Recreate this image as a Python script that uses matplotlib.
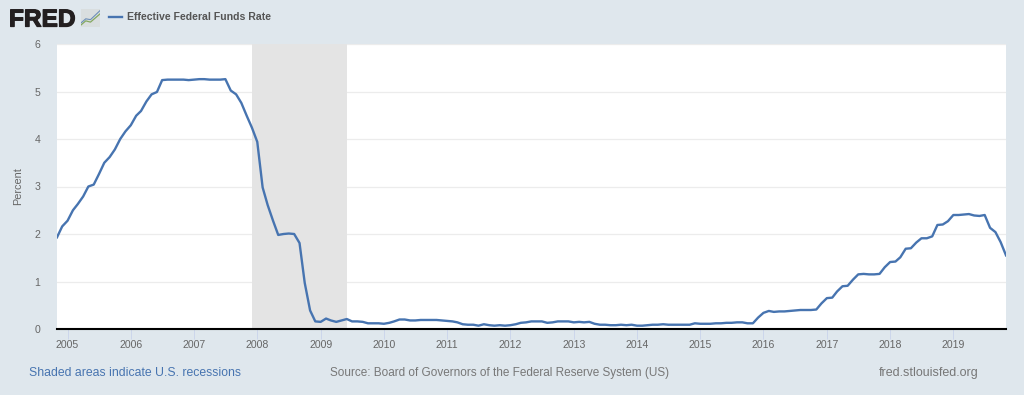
import matplotlib
matplotlib.use("Agg")
from matplotlib import pyplot as plt
from matplotlib import patheffects
import pandas as pd

plt.rcParams['font.family'] = ['Liberation Sans', 'DejaVu Sans']

# monthly values, Nov 2004 to Nov 2019
rate = [1.93, 2.16,
        2.28, 2.50, 2.63, 2.79, 3.00, 3.04, 3.26, 3.50, 3.62, 3.78, 4.00, 4.16,
        4.29, 4.49, 4.59, 4.79, 4.94, 4.99, 5.24, 5.25, 5.25, 5.25, 5.25, 5.24,
        5.25, 5.26, 5.26, 5.25, 5.25, 5.25, 5.26, 5.02, 4.94, 4.76, 4.49, 4.24,
        3.94, 2.98, 2.61, 2.28, 1.98, 2.00, 2.01, 2.00, 1.81, 0.97, 0.39, 0.16,
        0.15, 0.22, 0.18, 0.15, 0.18, 0.21, 0.16, 0.16, 0.15, 0.12, 0.12, 0.12,
        0.11, 0.13, 0.16, 0.20, 0.20, 0.18, 0.18, 0.19, 0.19, 0.19, 0.19, 0.18,
        0.17, 0.16, 0.14, 0.10, 0.09, 0.09, 0.07, 0.10, 0.08, 0.07, 0.08, 0.07,
        0.08, 0.10, 0.13, 0.14, 0.16, 0.16, 0.16, 0.13, 0.14, 0.16, 0.16, 0.16,
        0.14, 0.15, 0.14, 0.15, 0.11, 0.09, 0.09, 0.08, 0.08, 0.09, 0.08, 0.09,
        0.07, 0.07, 0.08, 0.09, 0.09, 0.10, 0.09, 0.09, 0.09, 0.09, 0.09, 0.12,
        0.11, 0.11, 0.11, 0.12, 0.12, 0.13, 0.13, 0.14, 0.14, 0.12, 0.12, 0.24,
        0.34, 0.38, 0.36, 0.37, 0.37, 0.38, 0.39, 0.40, 0.40, 0.40, 0.41, 0.54,
        0.65, 0.66, 0.79, 0.90, 0.91, 1.04, 1.15, 1.16, 1.15, 1.15, 1.16, 1.30,
        1.41, 1.42, 1.51, 1.69, 1.70, 1.82, 1.91, 1.91, 1.95, 2.19, 2.20, 2.27,
        2.40, 2.40, 2.41, 2.42, 2.39, 2.38, 2.40, 2.13, 2.04, 1.83, 1.55]
dates = pd.date_range("2004-11-01", periods=len(rate), freq="MS")
years = list(range(2005, 2020))
y_ticks = [0, 1, 2, 3, 4, 5, 6]
recession = ("2007-12-01", "2009-06-01")

W, H = 1024, 395
bg = "#dfe7ed"
blue = "#4774b0"

fig = plt.figure(figsize=(W / 100, H / 100), dpi=100, facecolor=bg)
ax = fig.add_axes([57 / W, 1 - 329 / H, (1006 - 57) / W, (329 - 44) / H])

ax.axvspan(pd.Timestamp(recession[0]), pd.Timestamp(recession[1]),
           color="#e4e4e4", lw=0, zorder=1)
ax.plot(dates, rate, color=blue, lw=1.7, zorder=3)

ax.set_xlim(dates[0], dates[-1])
ax.set_ylim(0, 6)
ax.set_yticks(y_ticks)
ax.set_xticks([pd.Timestamp(f"{y}-01-01") for y in years])
ax.set_xticklabels(years)
ax.grid(axis="y", color="#ececec", lw=0.9, zorder=0)
ax.set_axisbelow(True)
ax.tick_params(axis="x", length=7, width=0.7, color="#ccd6eb", labelsize=7.6,
               labelcolor="#666666", pad=1)
ax.tick_params(axis="y", length=0, labelsize=7.6, labelcolor="#666666", pad=12)
for s in ["top", "left", "right"]:
    ax.spines[s].set_visible(False)
ax.spines["bottom"].set_color("black")
ax.spines["bottom"].set_linewidth(1.5)
ax.spines["bottom"].set_zorder(5)
ax.set_ylabel("Percent", fontsize=7.8, color="#666666", labelpad=8)

# header
fig.text(9 / W, 1 - 26.5 / H, "FRED", fontsize=17.6, fontweight="bold",
         color="#231f20", va="baseline", ha="left",
         path_effects=[patheffects.withStroke(linewidth=0.9, foreground="#231f20")])
logo = fig.add_axes([81 / W, 1 - 27 / H, 19 / W, 18 / H], facecolor="#d9dedf")
logo.plot([0, 1, 2, 3, 4], [0.5, 1.5, 1.2, 2.2, 3.2], color="#84a860", lw=0.9)
logo.plot([0, 1, 2, 3, 4], [1, 2, 1.8, 2.9, 4], color="#6c8fb8", lw=0.8)
logo.set_xlim(0, 4)
logo.set_ylim(0, 4.4)
logo.set_xticks([])
logo.set_yticks([])
for s in logo.spines.values():
    s.set_visible(False)
fig.add_artist(plt.Line2D([109 / W, 122 / W], [1 - 17 / H] * 2, color=blue, lw=1.7))
fig.text(127 / W, 1 - 17 / H, "Effective Federal Funds Rate", fontsize=7.55,
         fontweight="bold", color="#555555", va="center", ha="left")

# footer
fig.text(29 / W, 1 - 373 / H, "Shaded areas indicate U.S. recessions", fontsize=8.85,
         color=blue, va="center", ha="left")
fig.text(330 / W, 1 - 373 / H, "Source: Board of Governors of the Federal Reserve System (US)",
         fontsize=8.5, color="#777777", va="center", ha="left")
fig.text(979 / W, 1 - 373 / H, "fred.stlouisfed.org", fontsize=9.0, color="#777777",
         va="center", ha="right")

plt.savefig("out.png", dpi=100, facecolor=bg)
